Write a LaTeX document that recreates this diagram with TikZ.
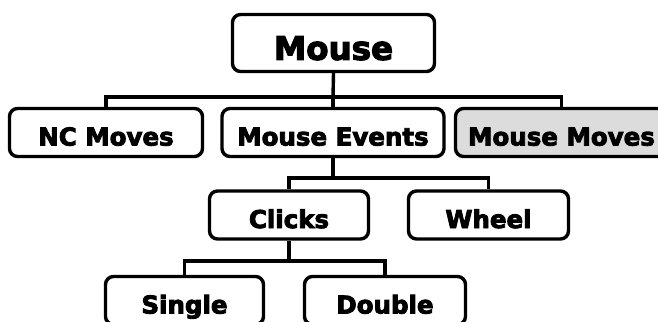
\documentclass[tikz,border=0pt]{standalone}
\usepackage{fontspec}
\newfontfamily\boxfont{DejaVu Sans Bold}[FakeBold=3.5]
\begin{document}
\begin{tikzpicture}[x=1pt,y=-1pt,
  box/.style={draw=black, line width=3.4pt, rounded corners=8pt, inner sep=0pt,
    font=\boxfont\fontsize{24.5}{26}\selectfont, text height=26pt, text depth=0pt,
    minimum height=48pt, fill=white},
  bigbox/.style={box, font=\boxfont\fontsize{32.5}{34}\selectfont, text height=33.7pt, minimum height=57pt},
  conn/.style={draw=black, line width=3.4pt}]
\useasboundingbox (0,0) rectangle (658,321);
\clip (0,0) rectangle (658,321);
\fill[white] (0,0) rectangle (658,321);
\coordinate (j1) at (333,97);
\coordinate (j2) at (333,178);
\coordinate (j3) at (289,261);
% nodes
\node[bigbox, minimum width=202pt] (mouse) at (333.5,43) {Mouse};
\node[box, minimum width=193pt] (nc) at (106,132.5) {NC Moves};
\node[box, minimum width=222pt] (me) at (333,132.5) {Mouse Events};
\node[box, minimum width=212pt, fill={rgb,255:red,220;green,220;blue,220}] (mm) at (561.5,132.5) {Mouse Moves};
\node[box, minimum width=159pt] (clicks) at (289,215) {Clicks};
\node[box, minimum width=160pt] (wheel) at (488.5,215) {Wheel};
\node[box, minimum width=158pt] (single) at (184.5,300.5) {Single};
\node[box, minimum width=161pt] (double) at (385,300.5) {Double};
% connectors
\draw[conn] (mouse.south) -- (j1);
\draw[conn] (nc.north) |- (j1) -| (mm.north);
\draw[conn] (me.north) -- (me.north |- j1);
\draw[conn] (me.south) -- (me.south |- j2);
\draw[conn] (clicks.north) |- (j2) -| (wheel.north);
\draw[conn] (clicks.south) -- (j3);
\draw[conn] (single.north) |- (j3) -| (double.north);
\end{tikzpicture}
\end{document}
